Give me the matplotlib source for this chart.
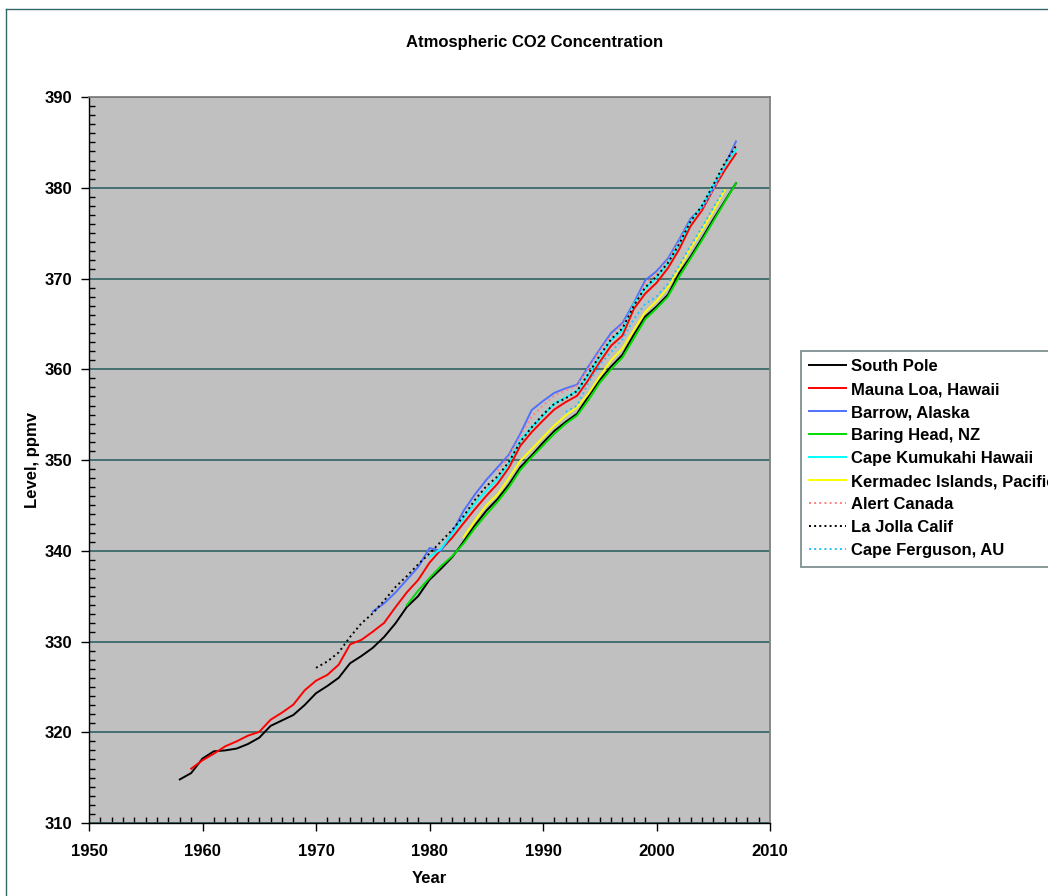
import matplotlib
matplotlib.use("Agg")
import matplotlib.pyplot as plt
from matplotlib.ticker import MultipleLocator
from matplotlib.lines import Line2D

plt.rcParams['font.family'] = ['Liberation Sans', 'DejaVu Sans']

# ---------------- data ----------------
south_pole_years = list(range(1958, 2008))
south_pole = [314.8, 315.5, 317.1, 317.9, 318.0, 318.2, 318.7, 319.4, 320.7, 321.3,
              321.9, 323.0, 324.3, 325.1, 326.0, 327.6, 328.4, 329.3, 330.5, 332.0,
              333.8, 335.0, 336.8, 338.0, 339.3, 341.0, 342.8, 344.4, 345.7, 347.3,
              349.2, 350.5, 351.9, 353.2, 354.2, 355.1, 357.0, 358.8, 360.3, 361.6,
              363.8, 365.8, 366.9, 368.2, 370.6, 372.4, 374.4, 376.5, 378.5, 380.5]

mauna_loa_years = list(range(1959, 2008))
mauna_loa = [315.98, 316.91, 317.64, 318.45, 318.99, 319.62, 320.04, 321.38, 322.16, 323.04,
             324.62, 325.68, 326.32, 327.45, 329.68, 330.18, 331.08, 332.05, 333.78, 335.41,
             336.78, 338.68, 340.10, 341.44, 343.03, 344.58, 346.04, 347.39, 349.16, 351.56,
             353.07, 354.35, 355.57, 356.38, 357.07, 358.82, 360.80, 362.59, 363.71, 366.65,
             368.33, 369.52, 371.13, 373.22, 375.77, 377.49, 379.80, 381.90, 383.76]

barrow_years = list(range(1975, 2008))
barrow = [333.3, 334.2, 335.4, 336.8, 338.2, 340.3, 340.0, 342.0, 344.4, 346.2,
          347.8, 349.2, 350.6, 352.9, 355.5, 356.5, 357.4, 357.9, 358.3, 360.3,
          362.2, 364.0, 365.1, 367.3, 369.8, 370.8, 372.2, 374.3, 376.6, 377.8,
          379.9, 382.4, 385.1]

baring_years = list(range(1978, 2008))
baring = [334.0, 335.6, 337.0, 338.3, 339.4, 340.8, 342.5, 344.0, 345.4, 347.0,
          348.9, 350.3, 351.6, 352.9, 354.0, 354.9, 356.6, 358.5, 360.0, 361.3,
          363.4, 365.5, 366.7, 368.0, 370.2, 372.2, 374.2, 376.3, 378.4, 380.5]

kumukahi_years = list(range(1980, 2008))
kumukahi = [339.3, 340.2, 341.9, 343.6, 345.2, 346.6, 347.9, 349.7, 352.2, 353.6,
            354.9, 356.2, 356.9, 357.6, 359.4, 361.4, 363.2, 364.3, 367.2, 368.9,
            370.1, 371.7, 373.8, 376.3, 378.0, 380.3, 382.4, 384.2]

kermadec_years = list(range(1983, 2007))
kermadec = [341.5, 343.3, 345.0, 346.2, 348.0, 349.9, 351.2, 352.5, 353.8, 354.9,
            355.8, 357.3, 359.2, 361.0, 362.3, 364.3, 366.3, 367.5, 369.0, 371.1,
            373.3, 375.3, 377.4, 379.7]

alert_years = list(range(1986, 2008))
alert = [348.8, 350.4, 352.6, 354.8, 356.0, 357.1, 357.7, 358.2, 360.1, 362.0,
         363.7, 364.9, 367.0, 369.4, 370.5, 372.0, 374.1, 376.4, 377.7, 379.8,
         382.3, 384.8]

la_jolla_years = list(range(1970, 2008))
la_jolla = [327.1, 327.8, 328.8, 330.5, 332.0, 333.1, 334.5, 336.0, 337.2, 338.5,
            339.7, 341.0, 342.3, 343.8, 345.6, 347.1, 348.2, 349.8, 352.0, 353.6,
            355.0, 356.2, 356.8, 357.6, 359.5, 361.5, 363.3, 364.5, 367.0, 369.0,
            370.2, 371.7, 373.8, 376.3, 378.0, 380.3, 382.7, 384.6]

ferguson_years = list(range(1992, 2007))
ferguson = [355.3, 356.0, 358.5, 360.5, 361.9, 363.3, 365.5, 367.2, 368.0, 369.4,
            371.4, 373.6, 375.6, 377.8, 379.9]

series = [
    ("South Pole", south_pole_years, south_pole, "#000000", "-"),
    ("Mauna Loa, Hawaii", mauna_loa_years, mauna_loa, "#FF0000", "-"),
    ("Barrow, Alaska", barrow_years, barrow, "#5070FF", "-"),
    ("Baring Head, NZ", baring_years, baring, "#00DD00", "-"),
    ("Cape Kumukahi Hawaii", kumukahi_years, kumukahi, "#00FFFF", "-"),
    ("Kermadec Islands, Pacific", kermadec_years, kermadec, "#FFFF00", "-"),
    ("Alert Canada", alert_years, alert, "#FF8080", ":"),
    ("La Jolla Calif", la_jolla_years, la_jolla, "#000000", ":"),
    ("Cape Ferguson, AU", ferguson_years, ferguson, "#20C0FF", ":"),
]

FS = 12

# ---------------- figure ----------------
W, H = 1048, 896
fig = plt.figure(figsize=(W / 100, H / 100), dpi=100)
fig.patch.set_facecolor("white")

ax = fig.add_axes([89 / W, 1 - 823 / H, (770 - 89) / W, (823 - 97) / H])
ax.set_facecolor("#C0C0C0")

for name, yrs, vals, col, ls in series:
    ax.plot(yrs, vals, color=col, linestyle=ls, linewidth=1.4, label=name,
            zorder=3)

ax.set_xlim(1950, 2010)
ax.set_ylim(310, 390)
ax.xaxis.set_major_locator(MultipleLocator(10))
ax.xaxis.set_minor_locator(MultipleLocator(1))
ax.yaxis.set_major_locator(MultipleLocator(10))
ax.yaxis.set_minor_locator(MultipleLocator(1))
ax.tick_params(axis="both", which="major", direction="out", length=6, width=1,
               labelsize=FS, color="black")
ax.tick_params(axis="x", which="major", pad=9)
ax.tick_params(axis="y", which="major", pad=6)
ax.tick_params(axis="both", which="minor", direction="in", length=4, width=1,
               color="black")
for lab in ax.get_xticklabels() + ax.get_yticklabels():
    lab.set_fontweight("bold")

ax.grid(axis="y", which="major", color="#3A6868", linewidth=1.3, zorder=1)
ax.set_axisbelow(True)

for s in ("top", "right"):
    ax.spines[s].set_color("#808080")
    ax.spines[s].set_linewidth(1.3)
for s in ("left", "bottom"):
    ax.spines[s].set_color("black")
    ax.spines[s].set_linewidth(1.0)

fig.text(534.5 / W, 1 - 42 / H, "Atmospheric CO2 Concentration", ha="center",
         va="center", fontsize=FS, fontweight="bold")
fig.text(429.5 / W, 1 - 878 / H, "Year", ha="center", va="center",
         fontsize=FS, fontweight="bold")
fig.text(32 / W, 1 - 460 / H, "Level, ppmv", ha="center", va="center",
         rotation=90, fontsize=FS, fontweight="bold")

# outer chart border (only left and top visible in the crop)
fig.add_artist(Line2D([6 / W, 6 / W], [1 - 9 / H, -0.1], transform=fig.transFigure,
                      color="#336666", linewidth=1.0))
fig.add_artist(Line2D([6 / W, 1.1], [1 - 9 / H, 1 - 9 / H], transform=fig.transFigure,
                      color="#336666", linewidth=1.0))

leg = ax.legend(loc="upper left", bbox_to_anchor=(801 / W, 1 - 351 / H),
                bbox_transform=fig.transFigure, frameon=True, fancybox=False,
                framealpha=1, edgecolor="#7F9090", borderaxespad=0,
                prop={"weight": "bold", "size": FS}, handlelength=2.2,
                handletextpad=0.3, labelspacing=0.48, borderpad=0.5)
leg.get_frame().set_linewidth(1.3)

fig.savefig("out.png", dpi=100, facecolor="white")
